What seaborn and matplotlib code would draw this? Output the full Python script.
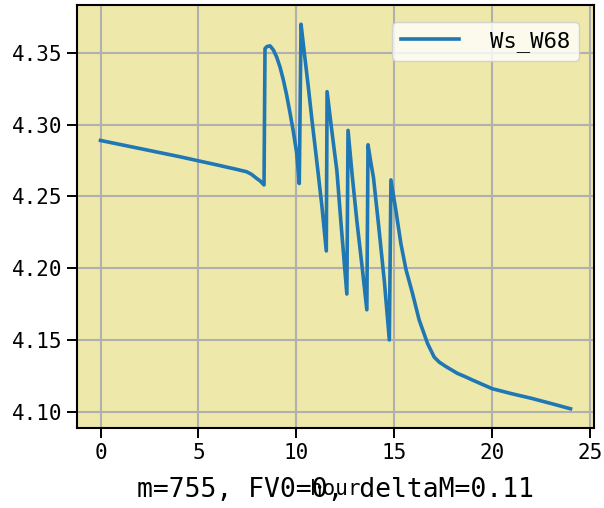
import matplotlib
matplotlib.use("Agg")
import matplotlib.pyplot as plt
import seaborn as sns
import pandas as pd

hours = [0.0, 1.0, 2.0, 3.0, 4.0, 5.0, 6.0, 7.0, 7.46, 7.7, 7.97, 8.15, 8.35, 8.40,
         8.5, 8.66, 8.83, 9.0, 9.17, 9.34, 9.5, 9.68, 9.85, 10.02, 10.15, 10.24,
         10.4, 10.61, 10.8, 11.04, 11.3, 11.53, 11.57,
         11.8, 12.07, 12.3, 12.58, 12.64,
         12.85, 13.09, 13.35, 13.6, 13.66,
         13.8, 13.94, 14.2, 14.5, 14.75, 14.83,
         15.08, 15.34, 15.6, 15.93, 16.27, 16.7, 17.04, 17.3, 17.63, 18.22, 18.6, 19.0,
         20.0, 21.0, 22.0, 23.0, 24.0]
ws_w68 = [4.289, 4.2862, 4.2834, 4.2806, 4.2778, 4.2748, 4.2718, 4.2687, 4.2672, 4.2655, 4.2626, 4.2608, 4.258, 4.353,
          4.3545, 4.3549, 4.352, 4.347, 4.340, 4.331, 4.321, 4.308, 4.295, 4.280, 4.259, 4.370,
          4.351, 4.3265, 4.303, 4.275, 4.244, 4.212, 4.323,
          4.297, 4.268, 4.228, 4.182, 4.296,
          4.265, 4.233, 4.202, 4.171, 4.286,
          4.274, 4.263, 4.230, 4.190, 4.150, 4.2615,
          4.2405, 4.217, 4.199, 4.1825, 4.164, 4.1475, 4.138, 4.1345, 4.1315, 4.1267, 4.1245, 4.122,
          4.116, 4.1125, 4.1093, 4.1057, 4.102]

df = pd.DataFrame({"hour": hours, "Ws_W68": ws_w68})

plt.rcParams['font.family'] = ['DejaVu Sans Mono']
fig = plt.figure(figsize=(6.04, 5.08), dpi=100)
ax = fig.add_axes([77/604, 1-428/508, 517/604, 423/508])
ax.set_facecolor('#eee8aa')
ax.grid(True, color='#b0b0b0', linewidth=1.5)
ax.set_axisbelow(True)

sns.lineplot(data=df, x="hour", y="Ws_W68", ax=ax, sort=False, estimator=None,
             color='#1f77b4', linewidth=2.6, label='Ws_W68')

ax.set_xticks([0, 5, 10, 15, 20, 25])
ax.set_yticks([4.10, 4.15, 4.20, 4.25, 4.30, 4.35])
ax.set_yticklabels(['4.10', '4.15', '4.20', '4.25', '4.30', '4.35'])
ax.tick_params(labelsize=15, length=7, width=1.4)
for s in ax.spines.values():
    s.set_linewidth(1.5)
ax.set_xlabel('hour', fontsize=15, labelpad=12)
ax.set_ylabel('')

leg = ax.legend(loc='upper right', fontsize=16, handlelength=2.6, handletextpad=1.4,
                bbox_to_anchor=(0.98, 0.97), borderaxespad=0.2, fancybox=True)
leg.get_frame().set_alpha(0.8)

fig.text(0.555, 0.022, 'm=755, FV0=0, deltaM=0.11', ha='center', va='baseline', fontsize=19)

fig.savefig('out.png', dpi=100)
